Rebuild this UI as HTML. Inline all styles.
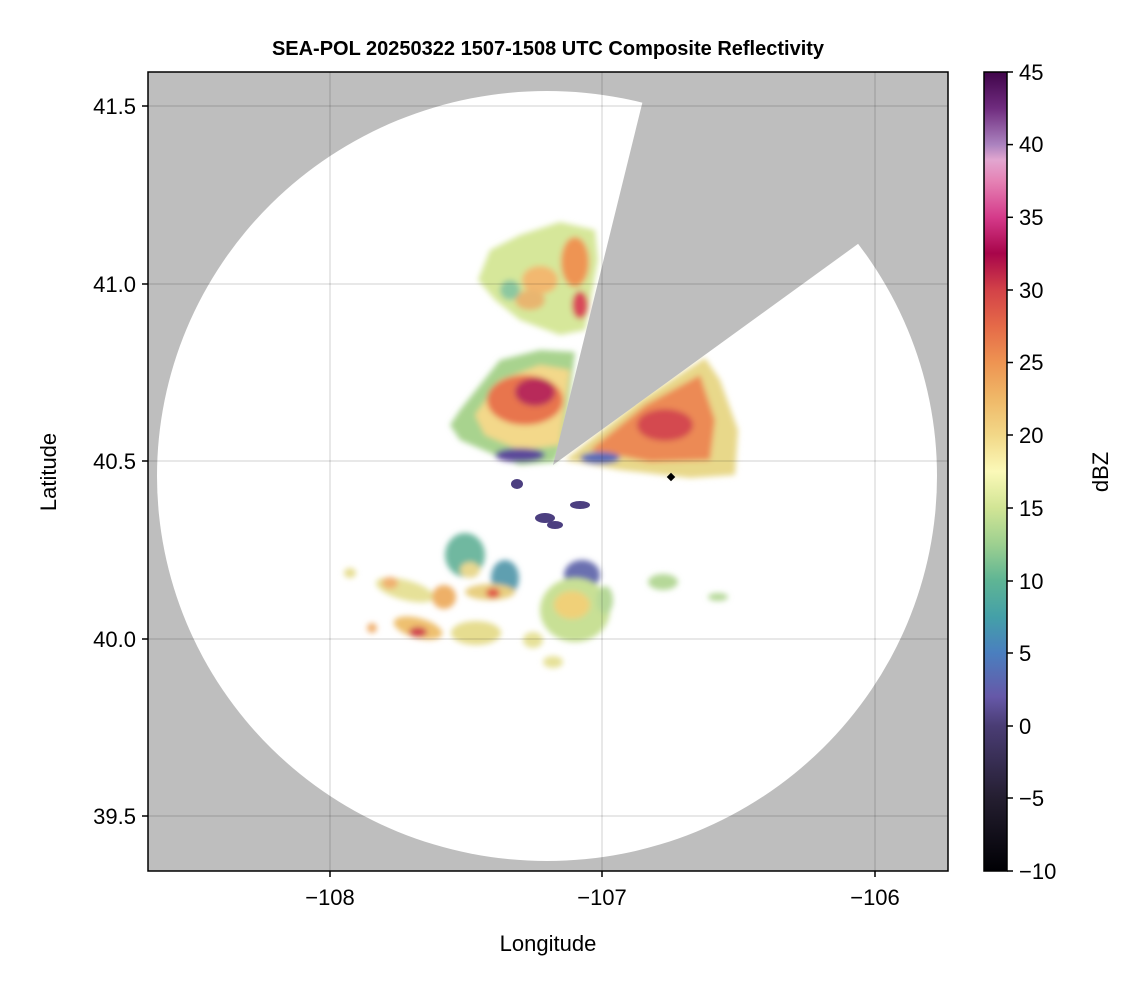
<!DOCTYPE html>
<html><head><style>
body{margin:0;background:#fff;}
svg text{font-family:"Liberation Sans",sans-serif;}
</style></head><body>
<svg width="1146" height="990" viewBox="0 0 1146 990" xmlns="http://www.w3.org/2000/svg">
<defs>
<clipPath id="pc"><rect x="148" y="72" width="800" height="799"/></clipPath>
<filter id="bl" x="-20%" y="-20%" width="140%" height="140%"><feGaussianBlur stdDeviation="3"/></filter>
<linearGradient id="cb" x1="0" y1="1" x2="0" y2="0">
<stop offset="0" stop-color="#000004"/>
<stop offset="0.091" stop-color="#241e30"/>
<stop offset="0.182" stop-color="#4a3d75"/>
<stop offset="0.218" stop-color="#6658a8"/>
<stop offset="0.273" stop-color="#4a7fbf"/>
<stop offset="0.318" stop-color="#44a0a8"/>
<stop offset="0.364" stop-color="#5fb594"/>
<stop offset="0.409" stop-color="#9dd090"/>
<stop offset="0.455" stop-color="#d2e595"/>
<stop offset="0.5" stop-color="#fbf9b8"/>
<stop offset="0.545" stop-color="#f2d888"/>
<stop offset="0.591" stop-color="#efb868"/>
<stop offset="0.636" stop-color="#ee9452"/>
<stop offset="0.682" stop-color="#e56a48"/>
<stop offset="0.727" stop-color="#d34248"/>
<stop offset="0.773" stop-color="#a8054a"/>
<stop offset="0.818" stop-color="#d53a8a"/>
<stop offset="0.864" stop-color="#e583b5"/>
<stop offset="0.89" stop-color="#e2a6d0"/>
<stop offset="0.909" stop-color="#ab83bf"/>
<stop offset="0.955" stop-color="#6f2b7e"/>
<stop offset="1" stop-color="#40054a"/>
</linearGradient>
</defs>
<text x="548" y="55" text-anchor="middle" font-size="20" font-weight="bold">SEA-POL 20250322 1507-1508 UTC Composite Reflectivity</text>
<g clip-path="url(#pc)">
<rect x="148" y="72" width="800" height="799" fill="#bebebe"/>
<ellipse cx="547" cy="476" rx="390" ry="385" fill="#fff"/>
<g filter="url(#bl)">
<path d="M490,250 L520,235 L560,222 L595,230 L598,260 L585,330 L560,335 L520,320 L495,300 L478,280 Z" fill="#d6e79a"/>
<ellipse cx="575" cy="262" rx="14" ry="25" fill="#ee9452"/>
<ellipse cx="540" cy="280" rx="18" ry="14" fill="#f2b870"/>
<ellipse cx="580" cy="305" rx="8" ry="14" fill="#d94a5a"/>
<ellipse cx="530" cy="300" rx="15" ry="10" fill="#e8b570"/>
<ellipse cx="510" cy="290" rx="10" ry="10" fill="#8cc8a0"/>
</g>
<g filter="url(#bl)">
<path d="M460,410 L480,385 L500,360 L540,350 L575,352 L565,440 L555,462 L520,465 L495,455 L460,440 L450,425 Z" fill="#a8d38e"/>
<path d="M475,415 L500,380 L540,365 L570,370 L560,445 L520,450 L485,435 Z" fill="#f3d88a"/>
<ellipse cx="525" cy="400" rx="38" ry="25" fill="#e8744e"/>
<ellipse cx="535" cy="392" rx="20" ry="14" fill="#b82a5a"/>
<ellipse cx="520" cy="455" rx="25" ry="7" fill="#5b4a9a"/>
</g>
<g filter="url(#bl)">
<path d="M565,460 L640,400 L705,358 L720,380 L738,430 L735,475 L690,478 L620,470 Z" fill="#e8d88a"/>
<path d="M590,450 L645,405 L700,375 L715,420 L710,460 L650,462 Z" fill="#ec8a55"/>
<ellipse cx="665" cy="425" rx="28" ry="16" fill="#d44a50"/>
<ellipse cx="600" cy="458" rx="20" ry="6" fill="#5a6cb8"/>
</g>
<polygon points="553,465 644,96 646,60 1000,60 1000,200 862,241" fill="#bebebe"/>
<rect x="668" y="474" width="6" height="6" transform="rotate(45 671 477)" fill="#000"/>
<g fill="#4c3f80">
<ellipse cx="517" cy="484" rx="6" ry="5"/>
<ellipse cx="545" cy="518" rx="10" ry="5"/>
<ellipse cx="580" cy="505" rx="10" ry="4"/>
<ellipse cx="555" cy="525" rx="8" ry="4"/>
</g>
<g filter="url(#bl)">
<ellipse cx="465" cy="555" rx="20" ry="22" fill="#6fb8a0"/>
<ellipse cx="470" cy="570" rx="10" ry="8" fill="#e8d890"/>
<ellipse cx="505" cy="578" rx="14" ry="18" fill="#5f9fb0"/>
<ellipse cx="582" cy="575" rx="18" ry="15" fill="#6a70b0"/>
<ellipse cx="575" cy="610" rx="35" ry="32" fill="#c8e095"/>
<ellipse cx="572" cy="605" rx="18" ry="14" fill="#f0d078"/>
<ellipse cx="405" cy="590" rx="30" ry="10" fill="#e6e198" transform="rotate(15 405 590)"/>
<ellipse cx="390" cy="583" rx="8" ry="6" fill="#f0b070"/>
<ellipse cx="444" cy="597" rx="12" ry="12" fill="#eeb068"/>
<ellipse cx="490" cy="592" rx="25" ry="8" fill="#e8cf80"/>
<ellipse cx="493" cy="593" rx="7" ry="5" fill="#e0574a"/>
<ellipse cx="418" cy="628" rx="25" ry="10" fill="#eec070" transform="rotate(15 418 628)"/>
<ellipse cx="418" cy="632" rx="9" ry="5" fill="#d04050"/>
<ellipse cx="476" cy="633" rx="25" ry="12" fill="#e6dd90"/>
<ellipse cx="533" cy="640" rx="10" ry="8" fill="#e6e198"/>
<ellipse cx="553" cy="662" rx="10" ry="6" fill="#e6e198"/>
<ellipse cx="350" cy="573" rx="6" ry="5" fill="#e6dd90"/>
<ellipse cx="372" cy="628" rx="5" ry="5" fill="#f0b070"/>
<ellipse cx="663" cy="582" rx="15" ry="8" fill="#b5d898"/>
<ellipse cx="718" cy="597" rx="10" ry="4" fill="#b5d898"/>
<ellipse cx="605" cy="600" rx="8" ry="14" fill="#b5d898"/>
</g>
</g>
<g stroke="#000" stroke-opacity="0.12" stroke-width="1.5">
<line x1="330" y1="72" x2="330" y2="871"/>
<line x1="602" y1="72" x2="602" y2="871"/>
<line x1="875" y1="72" x2="875" y2="871"/>
<line x1="148" y1="106" x2="948" y2="106"/>
<line x1="148" y1="284" x2="948" y2="284"/>
<line x1="148" y1="461" x2="948" y2="461"/>
<line x1="148" y1="639" x2="948" y2="639"/>
<line x1="148" y1="816" x2="948" y2="816"/>
</g>
<rect x="148" y="72" width="800" height="799" fill="none" stroke="#000" stroke-width="1.5"/>
<g stroke="#000" stroke-width="1.5">
<line x1="330" y1="871" x2="330" y2="877"/>
<line x1="602" y1="871" x2="602" y2="877"/>
<line x1="875" y1="871" x2="875" y2="877"/>
<line x1="142" y1="106" x2="148" y2="106"/>
<line x1="142" y1="284" x2="148" y2="284"/>
<line x1="142" y1="461" x2="148" y2="461"/>
<line x1="142" y1="639" x2="148" y2="639"/>
<line x1="142" y1="816" x2="148" y2="816"/>
</g>
<g font-size="22" text-anchor="middle">
<text x="330" y="905">−108</text>
<text x="602" y="905">−107</text>
<text x="875" y="905">−106</text>
<text x="548" y="951">Longitude</text>
</g>
<g font-size="22" text-anchor="end">
<text x="136" y="114">41.5</text>
<text x="136" y="292">41.0</text>
<text x="136" y="469">40.5</text>
<text x="136" y="647">40.0</text>
<text x="136" y="824">39.5</text>
</g>
<text transform="translate(56,472) rotate(-90)" font-size="22" text-anchor="middle">Latitude</text>
<rect x="984" y="72" width="23" height="799" fill="url(#cb)" stroke="#000" stroke-width="1.5"/>
<g stroke="#000" stroke-width="1.5">
<line x1="1007" y1="72" x2="1013" y2="72"/>
<line x1="1007" y1="144.6" x2="1013" y2="144.6"/>
<line x1="1007" y1="217.3" x2="1013" y2="217.3"/>
<line x1="1007" y1="290" x2="1013" y2="290"/>
<line x1="1007" y1="362.5" x2="1013" y2="362.5"/>
<line x1="1007" y1="435" x2="1013" y2="435"/>
<line x1="1007" y1="508" x2="1013" y2="508"/>
<line x1="1007" y1="581" x2="1013" y2="581"/>
<line x1="1007" y1="653" x2="1013" y2="653"/>
<line x1="1007" y1="726" x2="1013" y2="726"/>
<line x1="1007" y1="798" x2="1013" y2="798"/>
<line x1="1007" y1="871" x2="1013" y2="871"/>
</g>
<g font-size="22">
<text x="1019" y="80">45</text>
<text x="1019" y="152">40</text>
<text x="1019" y="225">35</text>
<text x="1019" y="298">30</text>
<text x="1019" y="370">25</text>
<text x="1019" y="443">20</text>
<text x="1019" y="516">15</text>
<text x="1019" y="589">10</text>
<text x="1019" y="661">5</text>
<text x="1019" y="734">0</text>
<text x="1019" y="806">−5</text>
<text x="1019" y="879">−10</text>
</g>
<text transform="translate(1108,472) rotate(-90)" font-size="22" text-anchor="middle">dBZ</text>
</svg>
</body></html>
